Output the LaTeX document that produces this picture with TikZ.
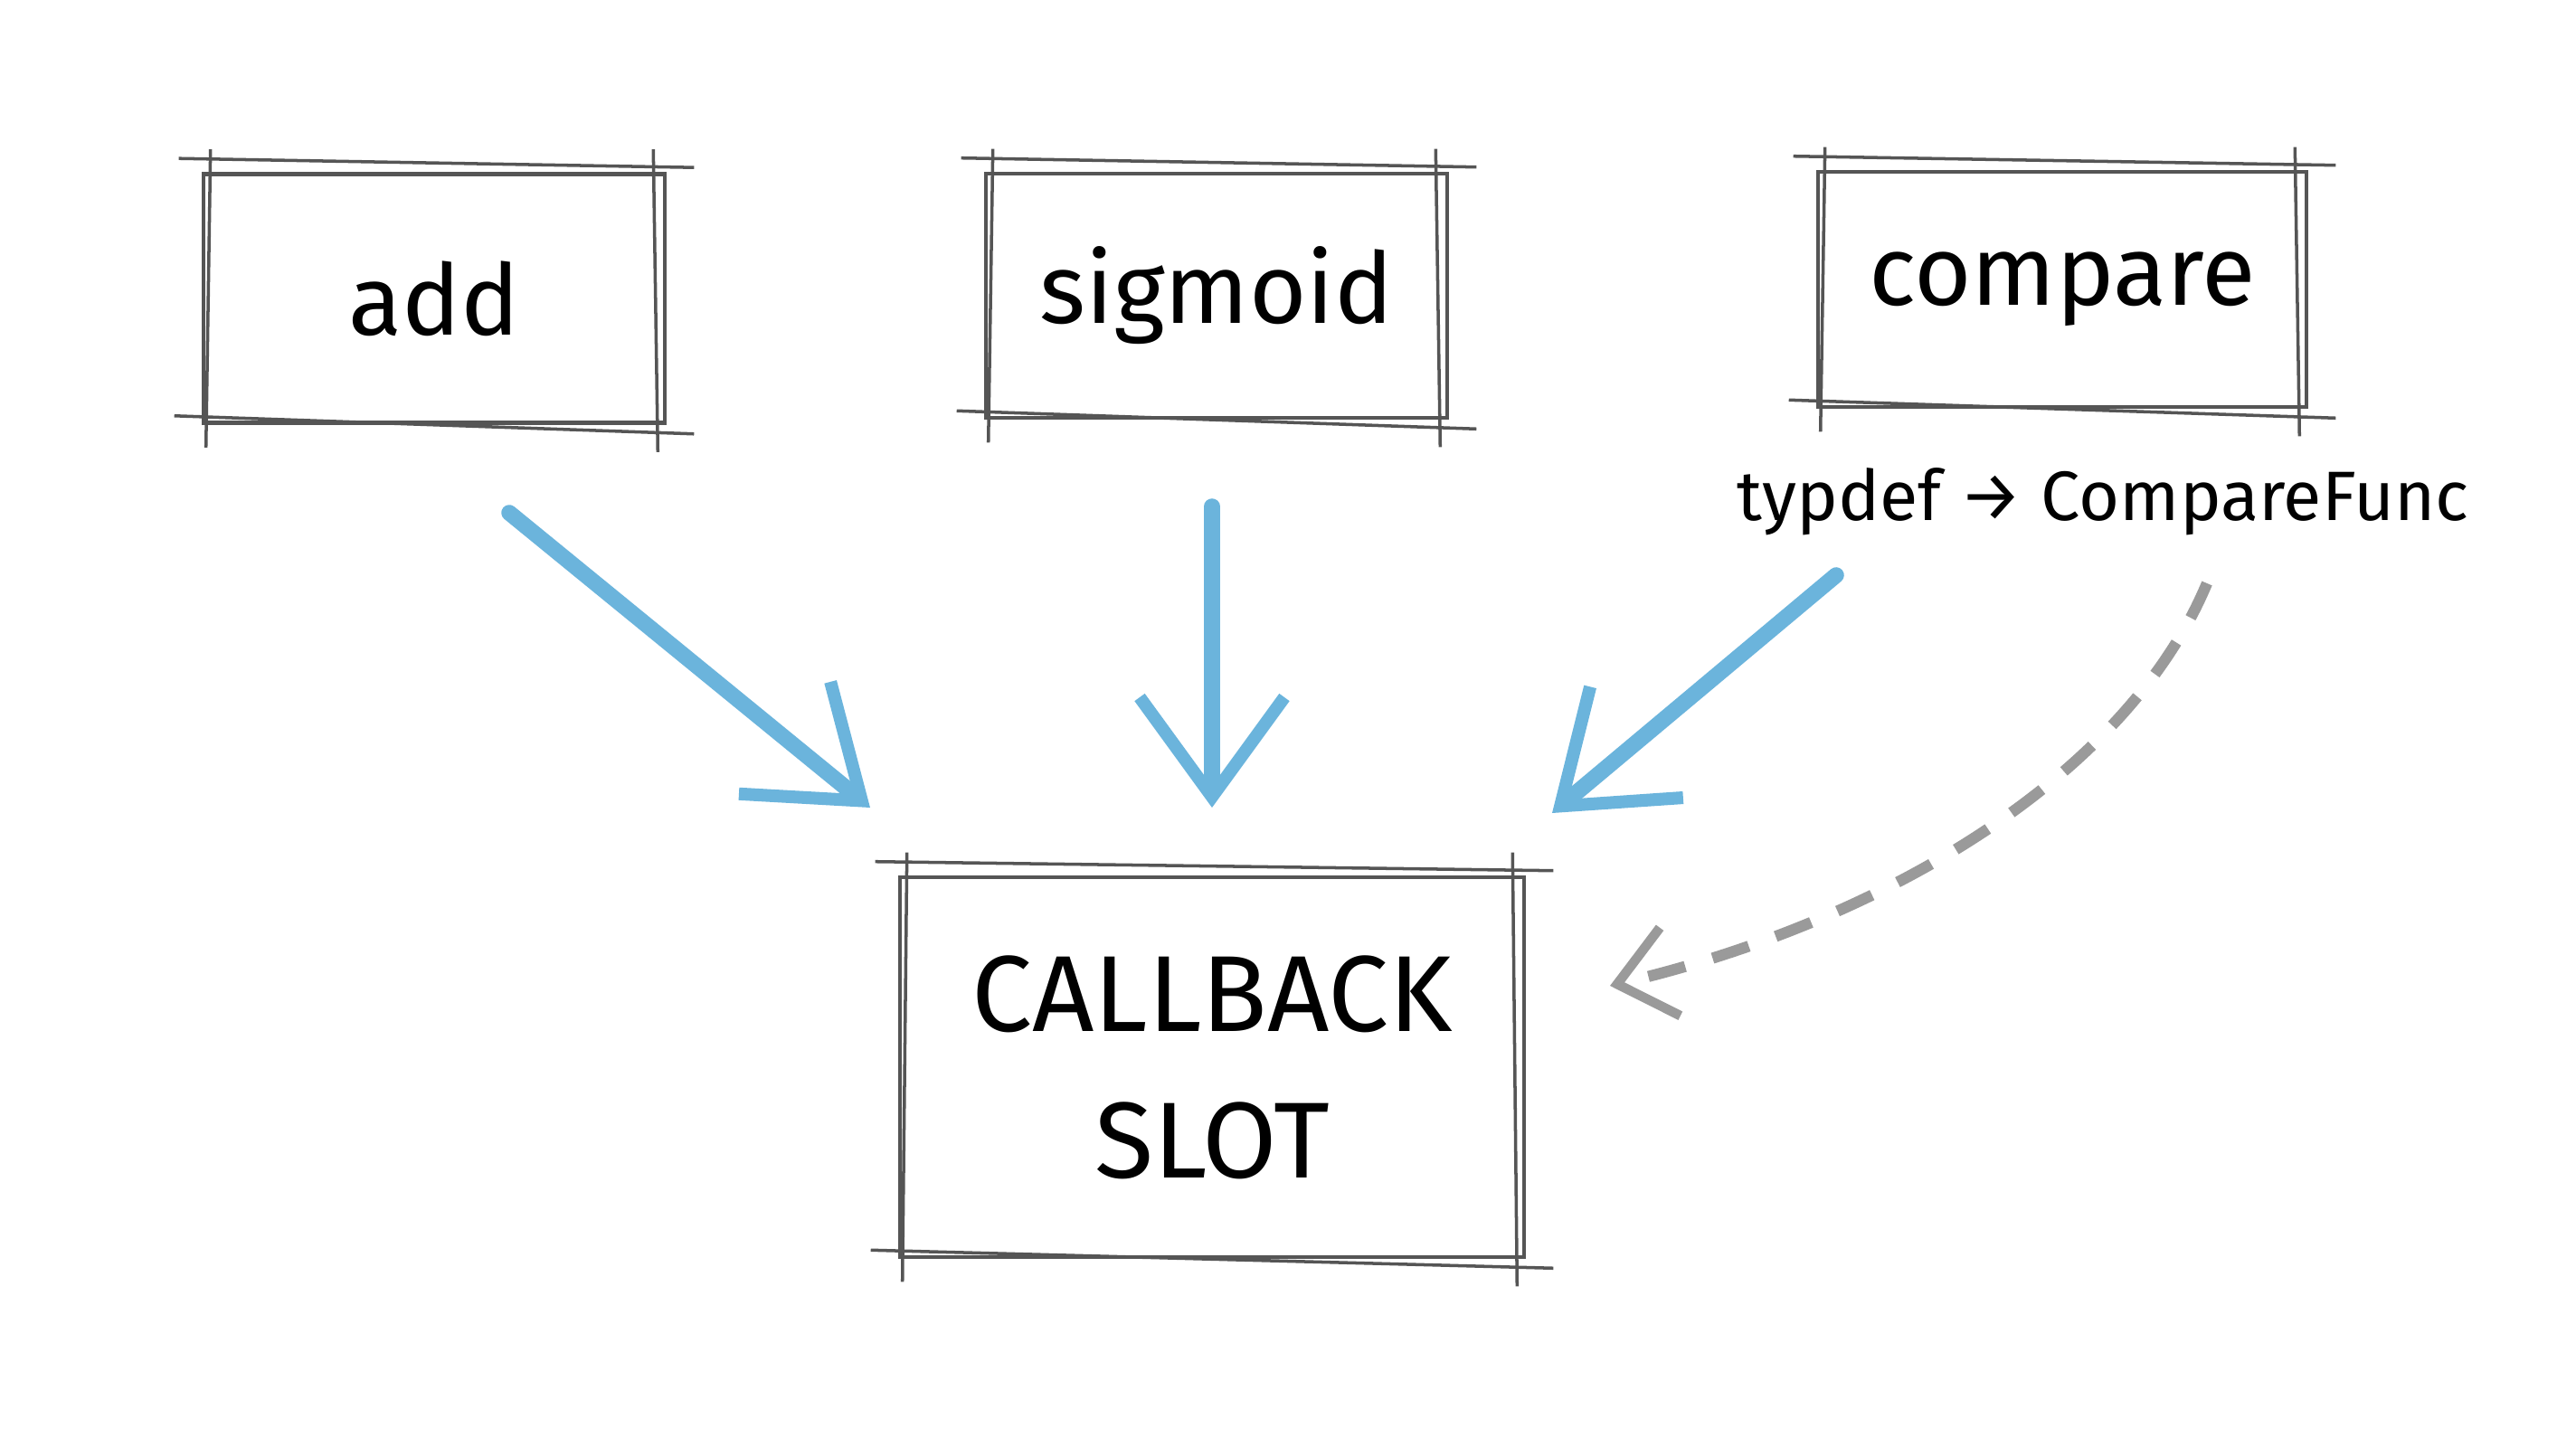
\documentclass[tikz,border=0pt]{standalone}
\usepackage{fontspec}
\setmainfont{Fira Sans}
\usetikzlibrary{arrows.meta,calc}
\definecolor{boxgray}{HTML}{555555}
\definecolor{arrblue}{HTML}{6BB4DC}
\definecolor{dashgray}{HTML}{9A9A9A}
\tikzset{
  box/.style={draw=boxgray,line width=1.3pt,align=center,font=\fontsize{31}{38}\selectfont,inner sep=0pt},
  blue arrow/.style={draw=arrblue,line width=5pt,line cap=round,-{Straight Barb[length=11mm,width=16mm,line width=4pt]}},
  dash arrow/.style={draw=dashgray,line width=3.5pt,dash pattern=on 12pt off 9pt,-{Straight Barb[length=6mm,width=10mm,line width=3pt]}}
}
\newcommand{\sketchbox}[1]{%
  \draw[boxgray,line width=1pt] ($(#1.north west)+(-0.25,0.15)$) -- ($(#1.north east)+(0.3,0.05)$);
  \draw[boxgray,line width=1pt] ($(#1.south west)+(-0.3,0.1)$) -- ($(#1.south east)+(0.3,-0.1)$);
  \draw[boxgray,line width=1pt] ($(#1.north west)+(0.1,0.25)$) -- ($(#1.south west)+(0.05,-0.25)$);
  \draw[boxgray,line width=1pt] ($(#1.north east)+(-0.15,0.25)$) -- ($(#1.south east)+(-0.1,-0.3)$);
}
\begin{document}
\begin{tikzpicture}
\useasboundingbox[fill=white] (0,0) rectangle (28.48,-16);
\node[box,minimum width=5.1cm,minimum height=2.75cm] (add) at (4.8,-3.3) {add};
\node[box,minimum width=5.1cm,minimum height=2.7cm] (sig) at (13.45,-3.27) {sigmoid};
\node[box,minimum width=5.4cm,minimum height=2.6cm] (cmp) at (22.8,-3.2) {compare};
\node[box,minimum width=6.9cm,minimum height=4.2cm,font=\fontsize{34}{46}\selectfont] (cb) at (13.4,-11.8) {CALLBACK\\SLOT};
\sketchbox{add}\sketchbox{sig}\sketchbox{cmp}\sketchbox{cb}
\node[font=\fontsize{22}{28}\selectfont] (td) at (23.25,-5.55) {typdef → CompareFunc};
\coordinate (a1) at (5.63,-5.67); \coordinate (a1e) at (9.62,-8.93);
\coordinate (a2) at (13.4,-5.6); \coordinate (a2e) at (13.4,-8.93);
\coordinate (a3) at (20.3,-6.36); \coordinate (a3e) at (17.16,-8.99);
\draw[blue arrow] (a1) -- (a1e);
\draw[blue arrow] (a2) -- (a2e);
\draw[blue arrow] (a3) -- (a3e);
\coordinate (d1) at (24.4,-6.45);
\coordinate (d2) at (17.8,-10.9);
\draw[dash arrow] (d1) .. controls (23.5,-8.6) and (20.8,-10.2) .. (d2);
\end{tikzpicture}
\end{document}
